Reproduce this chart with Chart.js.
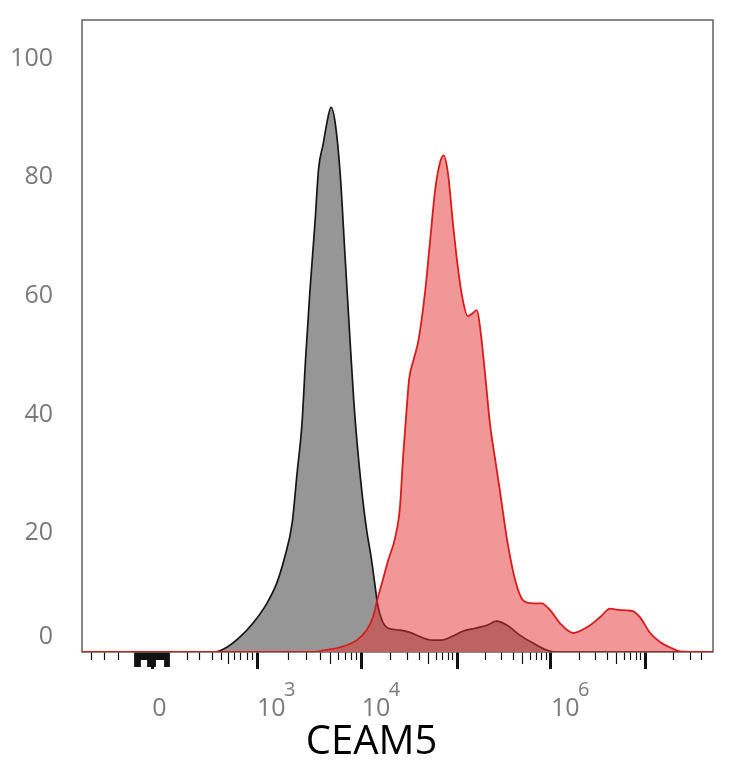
<!DOCTYPE html>
<html>
<head>
<meta charset="utf-8">
<script src="https://cdn.jsdelivr.net/npm/chart.js@4"></script>
<style>
  body { margin: 0; background: #fff; }
  canvas { display: block; }
</style>
</head>
<body>
<canvas id="histChart" width="734" height="768"></canvas>
<script>
// x = display channel on the biexponential axis (0-1024), y = % of mode
const isotypeX = [0, 216, 235, 256, 277, 300, 316, 329, 341, 349, 357, 363, 370, 378, 384, 391, 399, 404, 411, 419,
  427, 435, 441, 446, 454, 462, 469, 475, 480, 487, 497, 516, 532, 548, 568, 584, 600, 618, 638, 657,
  673, 690, 711, 732, 755, 768, 1024];
const isotypeY = [0, 0, 0.8, 2.5, 4.8, 8.2, 11.6, 16, 21.7, 30.1, 38.5, 49.7, 61, 72.2, 81.5, 85.4, 90, 91.8, 89.1, 80.6,
  66.5, 52.5, 42.4, 35.7, 27.2, 20.5, 16.1, 11.6, 7.9, 5.3, 4.0, 3.7, 3.3, 2.6, 2.0, 2.0, 2.6, 3.5, 4.0, 4.5,
  5.2, 4.5, 2.8, 1.5, 0.3, 0, 0];

const ceam5X = [0, 378, 394, 419, 446, 462, 472, 479, 487, 497, 508, 516, 521, 527, 531, 538, 546, 557, 565, 573,
  581, 587, 594, 602, 610, 618, 626, 634, 641, 646, 654, 662, 670, 678, 690, 703, 716, 732, 746, 760,
  776, 797, 820, 841, 857, 870, 884, 894, 906, 922, 938, 958, 971, 1024];
const ceam5Y = [0, 0, 0.3, 0.8, 2.0, 3.7, 5.8, 8.7, 11.7, 15.5, 19.2, 24.4, 32.8, 41.2, 46.1, 49.2, 52.5, 60.9, 69.4, 77.8,
  82.5, 83.7, 80.6, 72.2, 64.8, 59.3, 56.6, 57.1, 57.6, 54.7, 47, 38.5, 32.8, 27.3, 18.8, 12.1, 8.7, 8.2, 8.2, 7.0,
  4.8, 3.2, 4.2, 5.9, 7.3, 7.1, 7.0, 6.9, 5.8, 3.2, 1.7, 0.6, 0.1, 0];

const yTicks = [0, 20, 40, 60, 80, 100];

// channels of 0, 10^3, 10^4, 10^5, 10^6, 10^7
const decadeChannels = [114, 284, 454, 609, 761, 914];
const decadeBase = ["0", "10", "10", "", "10", ""];
const decadeExp = ["", "3", "4", "", "6", ""];
const lowMinorChannels = [172, 191, 211, 226, 237, 247, 258, 268, 276]; // 100 .. 900
const negMinorChannels = [16, 37, 60];
const zeroClusterChannels = [87, 90, 93, 96, 99, 102, 105, 108, 111, 117, 120, 123, 126, 129, 132, 135, 138, 141];
const zeroLongChannels = [87, 90, 93, 108, 111, 117, 135, 138, 141];

function buildXTicks() {
  const t = [];
  negMinorChannels.forEach(v => t.push({ value: v, kind: "minor" }));
  zeroClusterChannels.forEach(v => t.push({ value: v, kind: zeroLongChannels.includes(v) ? "long" : "cluster" }));
  lowMinorChannels.forEach((v, i) => t.push({ value: v, kind: i === 4 ? "mid" : "minor" }));
  decadeChannels.forEach((v, i) => {
    t.push({ value: v, kind: "major", exp: decadeExp[i] });
    if (i === 0) return;
    const next = decadeChannels[i + 1];
    const span = next !== undefined ? next - v : v - decadeChannels[i - 1];
    const last = next !== undefined ? 9 : 4;
    for (let m = 2; m <= last; m++) {
      t.push({ value: v + Math.log10(m) * span, kind: m === 5 ? "mid" : "minor" });
    }
  });
  return t.sort((a, b) => a.value - b.value);
}

const dashes = { major: [], long: [15, 40], mid: [12, 40], minor: [8, 40], cluster: [8, 40] };
const widths = { major: 3, long: 2.8, mid: 1.2, minor: 1.2, cluster: 2.8 };

function noPadding(s) {
  s.paddingTop = 0;
  s.paddingBottom = 0;
  s.paddingLeft = 0;
  s.paddingRight = 0;
}

const framePlugin = {
  id: "frame",
  beforeDatasetsDraw(chart) {
    const { ctx, chartArea: a } = chart;
    ctx.save();
    ctx.strokeStyle = "#6b6b6b";
    ctx.lineWidth = 1.6;
    ctx.strokeRect(a.left, a.top, a.right - a.left, a.bottom - a.top);
    ctx.restore();
  },
};

Chart.defaults.font.family = "'Open Sans', sans-serif";

const ctx = document.getElementById("histChart").getContext("2d");

new Chart(ctx, {
  type: "line",
  data: {
    datasets: [
      {
        label: "CEAM5",
        data: ceam5X.map((x, i) => ({ x, y: ceam5Y[i] })),
        borderColor: "#d81c1c",
        backgroundColor: "rgba(228, 48, 48, 0.5)",
        borderWidth: 1.8,
        fill: "origin",
        pointRadius: 0,
        cubicInterpolationMode: "monotone",
        order: 1,
      },
      {
        label: "Isotype",
        data: isotypeX.map((x, i) => ({ x, y: isotypeY[i] })),
        borderColor: "#161616",
        backgroundColor: "#969696",
        borderWidth: 1.7,
        fill: "origin",
        pointRadius: 0,
        cubicInterpolationMode: "monotone",
        order: 2,
      },
    ],
  },
  options: {
    responsive: false,
    animation: false,
    layout: { padding: { top: 20, right: 21, left: 0, bottom: 0 } },
    plugins: { legend: { display: false }, tooltip: { enabled: false } },
    scales: {
      x: {
        type: "linear",
        position: "bottom",
        weight: 0,
        min: 0,
        max: 1024,
        border: { display: false },
        grid: {
          drawOnChartArea: false,
          drawTicks: true,
          tickLength: 17,
          tickColor: "#111",
          tickWidth: c => widths[c.tick.kind] || 1,
          tickBorderDash: c => dashes[c.tick.kind] || [],
        },
        ticks: {
          autoSkip: false,
          maxRotation: 0,
          align: "start",
          labelOffset: 27,
          padding: 9,
          color: "#7a7a7a",
          font: { size: 20 },
          callback: (v, i, t) => t[i].exp || "",
        },
        afterBuildTicks: s => { s.ticks = buildXTicks(); },
        afterFit: s => { s.height = 44; noPadding(s); },
      },
      xb: {
        type: "linear",
        position: "bottom",
        weight: 1,
        min: 0,
        max: 1024,
        border: { display: false },
        grid: { display: false, drawTicks: false },
        ticks: {
          autoSkip: false,
          maxRotation: 0,
          align: "start",
          padding: 0,
          color: "#7a7a7a",
          font: { size: 25, lineHeight: 1 },
          callback: (v, i) => decadeBase[i],
        },
        title: {
          display: true,
          text: "CEAM5     ",
          color: "#000",
          font: { size: 40 },
          padding: { top: 0, bottom: 1 },
        },
        afterBuildTicks: s => { s.ticks = decadeChannels.map(v => ({ value: v })); },
        afterFit: s => { s.height = 72; noPadding(s); },
      },
      y: {
        min: 0,
        max: 106.5,
        border: { display: false },
        grid: { display: false, drawTicks: false },
        ticks: {
          padding: 29,
          color: "#7a7a7a",
          font: { size: 25 },
          callback: v => (v === 0 ? ["0", ""] : String(v)),
        },
        afterBuildTicks: s => { s.ticks = yTicks.map(v => ({ value: v })); },
        afterFit: s => { s.width = 82; noPadding(s); },
      },
    },
  },
  plugins: [framePlugin],
});
</script>
</body>
</html>
